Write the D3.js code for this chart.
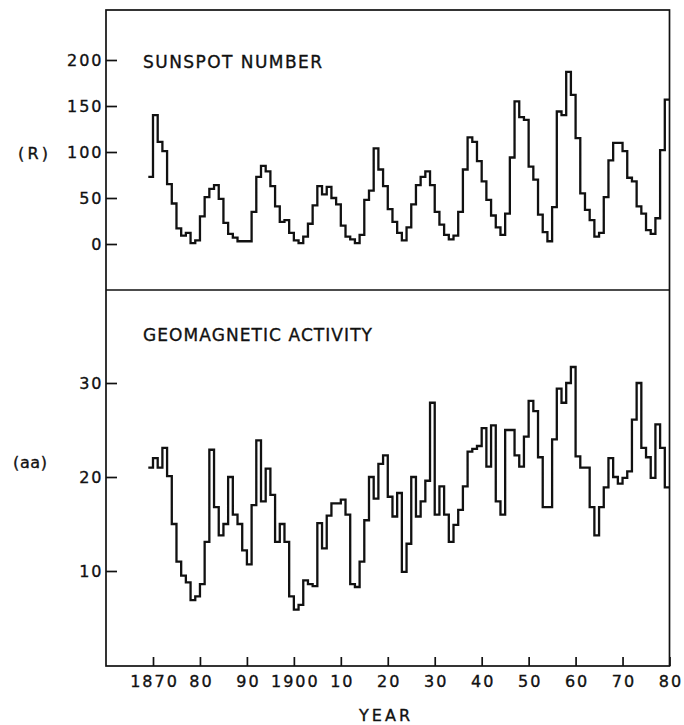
<!DOCTYPE html>
<html>
<head>
<meta charset="utf-8">
<script src="https://cdn.jsdelivr.net/npm/d3@7/dist/d3.min.js"></script>
<style>
  html, body { margin: 0; padding: 0; background: #fff; }
  svg { display: block; }
  text { font-family: "DejaVu Sans", "Liberation Sans", sans-serif; fill: #111; }
</style>
</head>
<body>
<svg id="chart" width="684" height="725"></svg>
<script>
// Annual means, one value per year starting at firstYear
const firstYear = 1869;

// Sunspot number R, 1869-1979
const sunspotNumber = [
  73, 140, 111, 101, 65, 44, 17, 9, 12, 1,
  4, 30, 51, 60, 64, 49, 23, 11, 7, 3,
  3, 3, 35, 73, 85, 79, 63, 41, 24, 26,
  12, 4, 1, 8, 22, 42, 63, 54, 62, 50,
  43, 20, 8, 5, 1, 10, 48, 58, 104, 81,
  63, 38, 24, 12, 4, 18, 43, 64, 73, 79,
  64, 35, 21, 10, 5, 9, 35, 81, 116, 111,
  90, 68, 48, 31, 18, 10, 33, 94, 155, 138,
  135, 84, 70, 32, 13, 3, 40, 144, 140, 187,
  162, 115, 55, 37, 26, 8, 12, 51, 91, 110,
  110, 101, 72, 68, 41, 33, 15, 11, 28, 102,
  157
];

// Geomagnetic activity index aa, 1869-1979
const aaIndex = [
  21.0, 22.0, 21.0, 23.1, 20.1, 15.0, 11.0, 9.5, 8.8, 6.9,
  7.3, 8.6, 13.1, 22.9, 16.8, 13.8, 15.0, 20.0, 16.0, 15.0,
  12.2, 10.7, 17.0, 23.9, 17.4, 20.9, 18.1, 13.1, 15.0, 13.1,
  7.3, 5.9, 6.4, 9.0, 8.6, 8.4, 15.1, 12.4, 15.9, 17.2,
  17.2, 17.6, 16.0, 8.6, 8.3, 11.0, 15.4, 20.0, 17.7, 21.4,
  22.3, 17.9, 15.8, 18.3, 9.9, 12.9, 20.0, 15.8, 17.4, 19.6,
  27.9, 16.0, 19.0, 16.0, 13.1, 14.9, 16.5, 19.0, 22.7, 23.0,
  23.3, 25.2, 21.1, 25.5, 17.4, 16.0, 25.0, 25.0, 22.3, 21.1,
  24.3, 28.1, 27.0, 22.1, 16.8, 16.8, 24.0, 29.4, 27.9, 30.0,
  31.7, 22.2, 21.0, 21.0, 16.8, 13.8, 16.8, 18.9, 22.0, 20.0,
  19.3, 19.9, 20.6, 26.1, 30.0, 23.1, 22.1, 19.9, 25.6, 23.1,
  18.9
];

const yearTicks = [1870, 1880, 1890, 1900, 1910, 1920, 1930, 1940, 1950, 1960, 1970, 1980];
const yearTickLabels = ["1870", "80", "90", "1900", "10", "20", "30", "40", "50", "60", "70", "80"];
const sunspotTicks = [0, 50, 100, 150, 200];
const aaTicks = [10, 20, 30];

const svg = d3.select("#chart");
const ink = "#111";

// Panel frame
const frame = { left: 106, right: 669.5, top: 10, mid: 290, bottom: 666 };

const x = d3.scaleLinear().domain([1870, 1980]).range([153, 669.5]);
const ySun = d3.scaleLinear().domain([0, 200]).range([244, 60]);
const yAa = d3.scaleLinear().domain([10, 30]).range([571, 383]);

// Outer box and divider between the two panels
svg.append("rect")
  .attr("x", frame.left).attr("y", frame.top)
  .attr("width", frame.right - frame.left).attr("height", frame.bottom - frame.top)
  .attr("fill", "none").attr("stroke", ink).attr("stroke-width", 1.7);
svg.append("line")
  .attr("x1", frame.left).attr("x2", frame.right)
  .attr("y1", frame.mid).attr("y2", frame.mid)
  .attr("stroke", ink).attr("stroke-width", 1.7);

function styleAxis(g) {
  g.select(".domain").remove();
  g.selectAll(".tick line").attr("stroke", ink).attr("stroke-width", 1.7);
  g.selectAll(".tick text")
    .attr("fill", ink)
    .attr("stroke", ink).attr("stroke-width", 0.35)
    .style("font-family", '"DejaVu Sans", sans-serif')
    .style("font-size", "16px")
    .style("letter-spacing", "2px");
}

// Left axes with ticks pointing into the panels
svg.append("g")
  .attr("transform", `translate(${frame.left},0)`)
  .call(d3.axisLeft(ySun).tickValues(sunspotTicks).tickSize(-11).tickPadding(2.5))
  .call(styleAxis)
  .call(g => g.selectAll(".tick text").attr("dy", "0.36em"));

svg.append("g")
  .attr("transform", `translate(${frame.left},0)`)
  .call(d3.axisLeft(yAa).tickValues(aaTicks).tickSize(-11).tickPadding(2.5))
  .call(styleAxis)
  .call(g => g.selectAll(".tick text").attr("dy", "0.36em"));

// Year axis along the bottom
svg.append("g")
  .attr("transform", `translate(0,${frame.bottom})`)
  .call(d3.axisBottom(x).tickValues(yearTicks)
    .tickFormat((d, i) => yearTickLabels[i])
    .tickSize(-9).tickPadding(10))
  .call(styleAxis)
  .call(g => g.selectAll(".tick text").attr("dx", "1px"));

// Annual step curves
function stepPoints(values) {
  const pts = values.map((v, i) => [firstYear + i, v]);
  pts.push([firstYear + values.length, values[values.length - 1]]);
  return pts;
}

const stepLine = yScale => d3.line()
  .x(d => x(d[0]))
  .y(d => yScale(d[1]))
  .curve(d3.curveStepAfter);

svg.append("path")
  .datum(stepPoints(sunspotNumber))
  .attr("d", stepLine(ySun))
  .attr("fill", "none").attr("stroke", ink)
  .attr("stroke-width", 2.3).attr("stroke-linejoin", "miter");

svg.append("path")
  .datum(stepPoints(aaIndex))
  .attr("d", stepLine(yAa))
  .attr("fill", "none").attr("stroke", ink)
  .attr("stroke-width", 2.3).attr("stroke-linejoin", "miter");

// Panel titles and axis names
function label(txt, px, py, len, size) {
  const t = svg.append("text")
    .attr("x", px).attr("y", py)
    .attr("stroke", ink).attr("stroke-width", 0.35)
    .style("font-size", size + "px")
    .text(txt);
  if (len) t.attr("textLength", len).attr("lengthAdjust", "spacing");
  return t;
}

label("SUNSPOT NUMBER", 143, 67.5, 179, 17);
label("GEOMAGNETIC ACTIVITY", 143, 341, 229, 17);
label("YEAR", 359, 720.5, 51, 16);
label("(R)", 18, 159, 30, 16);
label("(aa)", 13, 468, 34, 16);
</script>
</body>
</html>
